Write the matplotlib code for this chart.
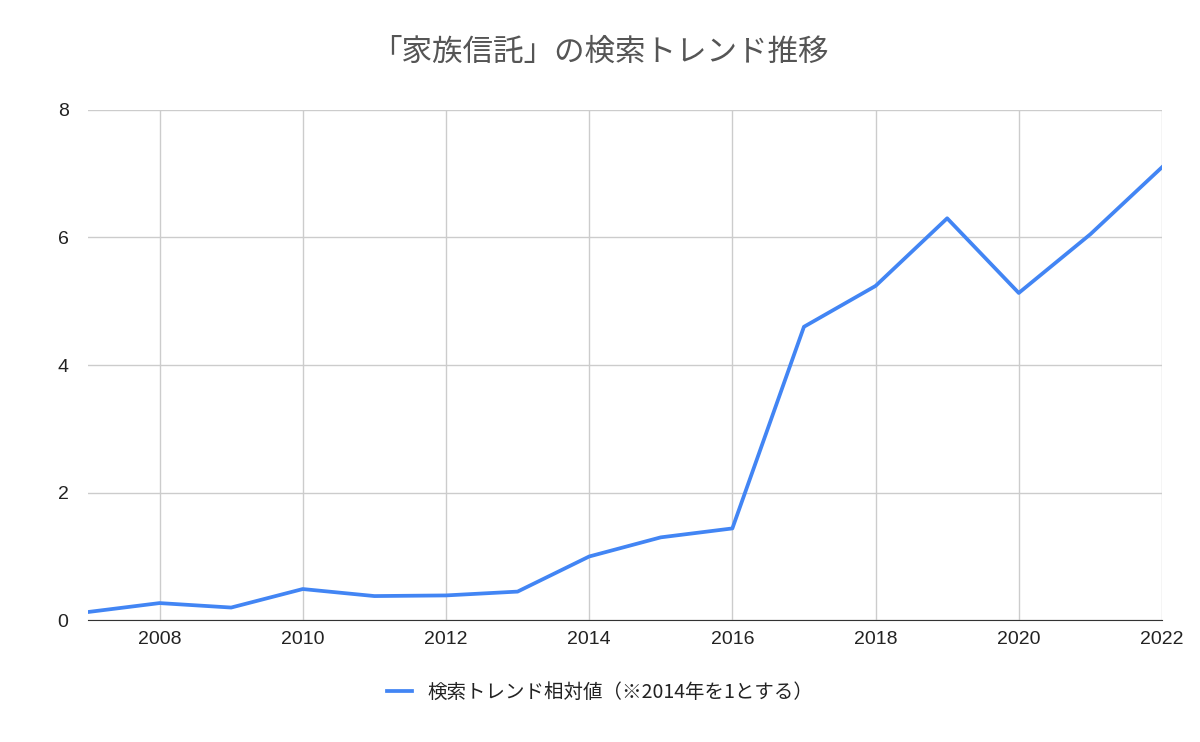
import matplotlib
matplotlib.use("Agg")
import matplotlib.pyplot as plt

plt.rcParams['font.family'] = ['Liberation Sans', 'Noto Sans CJK JP', 'DejaVu Sans']

years = list(range(2007, 2023))
values = [0.13, 0.27, 0.20, 0.49, 0.38, 0.39, 0.45, 1.00, 1.30, 1.44, 4.60, 5.24, 6.30, 5.13, 6.05, 7.10]
title = "「家族信託」の検索トレンド推移"
series_label = "検索トレンド相対値（※2014年を1とする）"

fig = plt.figure(figsize=(12, 7.42), dpi=100)
ax = fig.add_axes([0.0733, 0.164, 0.895, 0.688])
ax.plot(years, values, color="#4285F4", lw=2.7, label=series_label)
ax.set_xlim(2007, 2022)
ax.set_ylim(0, 8)
ax.set_xticks(range(2008, 2023, 2))
ax.set_yticks(range(0, 9, 2))
ax.grid(True, color="#cccccc", lw=1)
ax.set_axisbelow(True)
for s in ["top", "right", "left"]:
    ax.spines[s].set_visible(False)
ax.spines["bottom"].set_color("#333333")
ax.tick_params(length=0, labelsize=14, colors="#222222", pad=8)
ax.tick_params(axis='y', pad=14)
fig.text(0.5, 0.93, title, ha="center", va="center", fontsize=22, color="#555555",
         family=['Noto Sans CJK JP', 'DejaVu Sans'])
fig.legend(*ax.get_legend_handles_labels(), loc="center", bbox_to_anchor=(0.5, 0.067),
           frameon=False, handlelength=1.3, labelcolor="#222222",
           prop={'family': ['Noto Sans CJK JP', 'DejaVu Sans'], 'size': 14})
fig.savefig("out.png")
